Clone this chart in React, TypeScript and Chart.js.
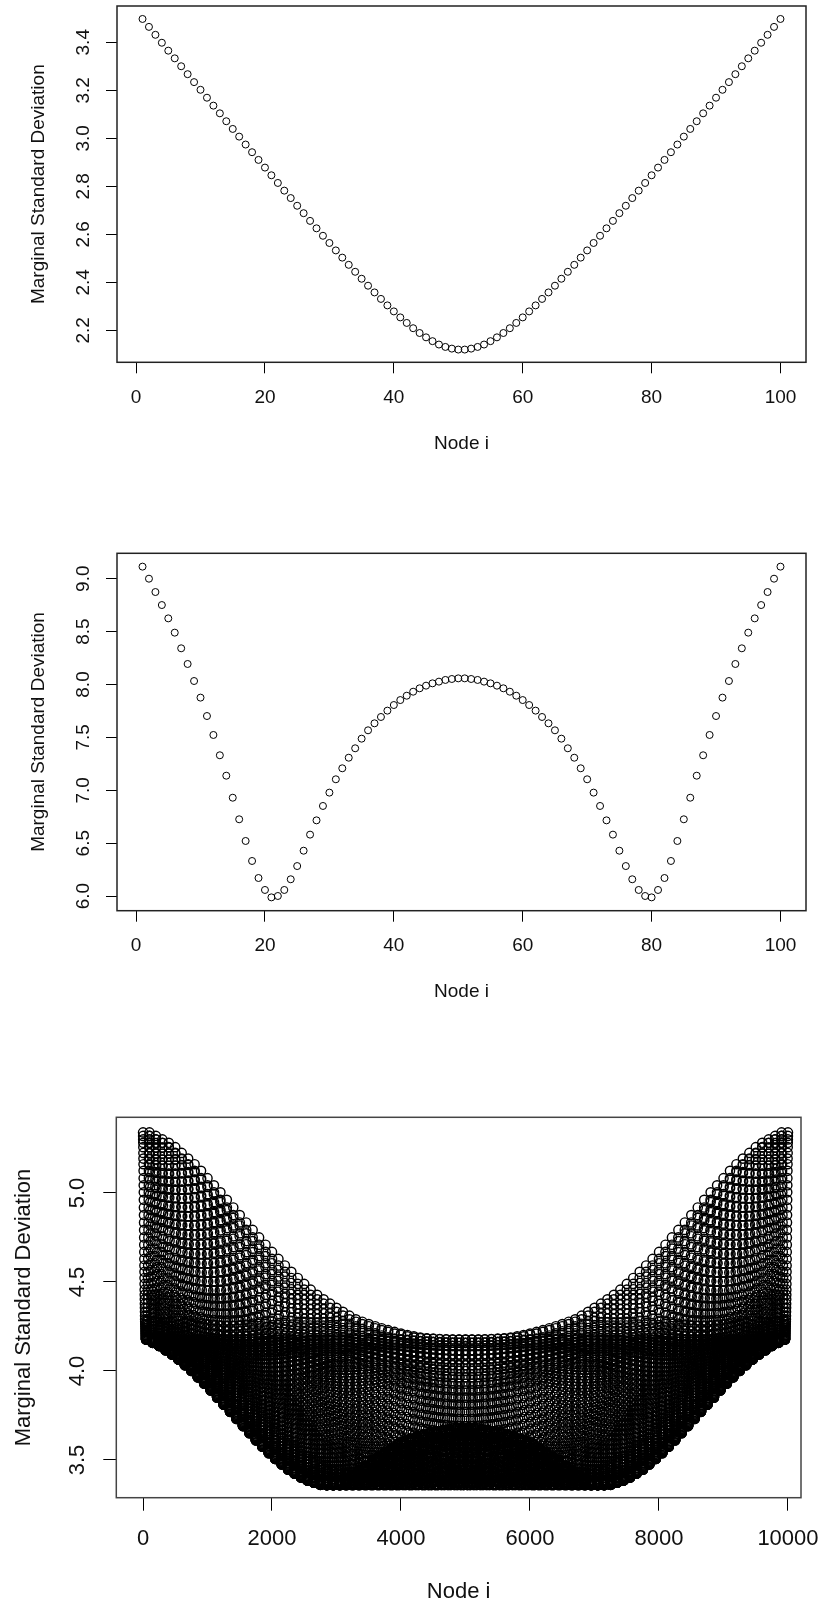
import React, { useEffect, useRef } from 'react';
import { Chart, registerables } from 'chart.js';

Chart.register(...registerables);

// ---------- data ----------
// Panel 1: 100 nodes, marginal SD
const sdPanel1 = [
  3.497, 3.464, 3.431, 3.398, 3.365, 3.333, 3.300, 3.267, 3.234, 3.202,
  3.169, 3.136, 3.104, 3.071, 3.039, 3.007, 2.974, 2.942, 2.910, 2.878,
  2.846, 2.814, 2.782, 2.751, 2.719, 2.688, 2.656, 2.625, 2.594, 2.564,
  2.533, 2.503, 2.473, 2.444, 2.415, 2.386, 2.358, 2.331, 2.304, 2.279,
  2.254, 2.231, 2.209, 2.189, 2.171, 2.155, 2.141, 2.131, 2.124, 2.120,
  2.120, 2.124, 2.131, 2.141, 2.155, 2.171, 2.189, 2.209, 2.231, 2.254,
  2.279, 2.304, 2.331, 2.358, 2.386, 2.415, 2.444, 2.473, 2.503, 2.533,
  2.564, 2.594, 2.625, 2.656, 2.688, 2.719, 2.751, 2.782, 2.814, 2.846,
  2.878, 2.910, 2.942, 2.974, 3.007, 3.039, 3.071, 3.104, 3.136, 3.169,
  3.202, 3.234, 3.267, 3.300, 3.333, 3.365, 3.398, 3.431, 3.464, 3.497,
];

// Panel 2: 100 nodes, marginal SD
const sdPanel2 = [
  9.114, 9.000, 8.874, 8.751, 8.625, 8.490, 8.342, 8.194, 8.033, 7.876,
  7.702, 7.523, 7.331, 7.138, 6.930, 6.726, 6.521, 6.332, 6.171, 6.058,
  5.988, 6.001, 6.058, 6.159, 6.284, 6.429, 6.581, 6.716, 6.852, 6.978,
  7.104, 7.208, 7.308, 7.397, 7.488, 7.567, 7.633, 7.693, 7.753, 7.806,
  7.853, 7.894, 7.932, 7.964, 7.989, 8.011, 8.027, 8.043, 8.052, 8.058,
  8.058, 8.052, 8.043, 8.027, 8.011, 7.989, 7.964, 7.932, 7.894, 7.853,
  7.806, 7.753, 7.693, 7.633, 7.567, 7.488, 7.397, 7.308, 7.208, 7.104,
  6.978, 6.852, 6.716, 6.581, 6.429, 6.284, 6.159, 6.058, 6.001, 5.988,
  6.058, 6.171, 6.332, 6.521, 6.726, 6.930, 7.138, 7.331, 7.523, 7.702,
  7.876, 8.033, 8.194, 8.342, 8.490, 8.625, 8.751, 8.874, 9.000, 9.114,
];

// Panel 3: 100 x 100 grid (10000 nodes, row-major). Marginal SD read off the
// envelopes of the cloud, as a function of distance from the grid centre.
const gridSide = 100;
const radiusStep = 2.5;
const sdByRadius = [
  3.68, 3.675, 3.66, 3.635, 3.60, 3.545, 3.48, 3.415, 3.36, 3.36,
  3.39, 3.445, 3.52, 3.61, 3.71, 3.81, 3.91, 4.0, 4.08, 4.14,
  4.185, 4.29, 4.44, 4.62, 4.81, 4.99, 5.15, 5.27, 5.34,
];

// Tick labels
const xTicksSmall = [0, 20, 40, 60, 80, 100];
const yTicks1 = [2.2, 2.4, 2.6, 2.8, 3.0, 3.2, 3.4];
const yTicks2 = [6.0, 6.5, 7.0, 7.5, 8.0, 8.5, 9.0];
const xTicks3 = [0, 2000, 4000, 6000, 8000, 10000];
const yTicks3 = [3.5, 4.0, 4.5, 5.0];

const xTitle = 'Node i';
const yTitle = 'Marginal Standard Deviation';

// ---------- helpers ----------
function sdAt(r: number, c: number) {
  const mid = (gridSide - 1) / 2;
  const rho = Math.sqrt((r - mid) * (r - mid) + (c - mid) * (c - mid));
  const f = rho / radiusStep;
  const k = Math.min(Math.floor(f), sdByRadius.length - 2);
  const t = f - k;
  return sdByRadius[k] * (1 - t) + sdByRadius[k + 1] * t;
}

const points1 = sdPanel1.map((v, k) => ({ x: k + 1, y: v }));
const points2 = sdPanel2.map((v, k) => ({ x: k + 1, y: v }));
const points3: { x: number; y: number }[] = [];
for (let r = 0; r < gridSide; r++) {
  for (let c = 0; c < gridSide; c++) {
    points3.push({ x: r * gridSide + c + 1, y: sdAt(r, c) });
  }
}

const FONT = "'Liberation Sans', Arial, Helvetica, sans-serif";

type Spec = {
  points: { x: number; y: number }[];
  width: number;
  height: number;
  padTop: number;
  padRight: number;
  yAxisW: number;
  xAxisH: number;
  xMin: number; xMax: number; yMin: number; yMax: number;
  xTicks: number[]; yTicks: number[];
  fontSize: number;
  tickLen: number;
  xTickPad: number;
  yTickPad: number;
  xTitlePad: number;
  yTitlePad: number;
  radius: number;
  pointWidth: number;
  pointColor: string;
  boxColor: string;
  boxWidth: number;
  textColor: string;
};

const boxPlugin = {
  id: 'rbox',
  afterDatasetsDraw(chart: any, _a: any, opts: any) {
    const { ctx, chartArea } = chart;
    ctx.save();
    ctx.strokeStyle = opts.color || '#000';
    ctx.lineWidth = opts.width || 1;
    ctx.strokeRect(chartArea.left, chartArea.top, chartArea.right - chartArea.left, chartArea.bottom - chartArea.top);
    ctx.restore();
  },
};

function buildConfig(p: Spec): any {
  const font = { family: FONT, size: p.fontSize, weight: 'normal' as const, lineHeight: 1.2 };
  return {
    type: 'scatter',
    data: {
      datasets: [
        {
          data: p.points,
          showLine: false,
          pointStyle: 'circle',
          pointRadius: p.radius,
          pointHoverRadius: p.radius,
          pointBorderWidth: p.pointWidth,
          pointBorderColor: p.pointColor,
          pointBackgroundColor: 'rgba(0,0,0,0)',
        },
      ],
    },
    options: {
      animation: false,
      responsive: false,
      events: [],
      layout: { padding: { top: p.padTop, right: p.padRight, left: 0, bottom: 0 } },
      plugins: {
        legend: { display: false },
        tooltip: { enabled: false },
        rbox: { color: p.boxColor, width: p.boxWidth },
      },
      scales: {
        x: {
          type: 'linear',
          min: p.xMin,
          max: p.xMax,
          afterBuildTicks: (s: any) => {
            s.ticks = p.xTicks.map((v) => ({ value: v }));
          },
          afterFit: (s: any) => {
            s.height = p.xAxisH;
            s.paddingLeft = 0;
            s.paddingRight = 0;
          },
          border: { display: false },
          grid: { drawOnChartArea: false, drawTicks: true, tickLength: p.tickLen, tickColor: '#000', tickWidth: 1 },
          ticks: {
            autoSkip: false,
            minRotation: 0,
            maxRotation: 0,
            padding: p.xTickPad,
            color: p.textColor,
            font,
            callback: (v: any) => String(v),
          },
          title: {
            display: true,
            text: xTitle,
            color: p.textColor,
            font,
            padding: { top: 0, bottom: p.xTitlePad },
          },
        },
        y: {
          type: 'linear',
          min: p.yMin,
          max: p.yMax,
          afterBuildTicks: (s: any) => {
            s.ticks = p.yTicks.map((v) => ({ value: v }));
          },
          afterFit: (s: any) => {
            s.width = p.yAxisW;
            s.paddingTop = 0;
            s.paddingBottom = 0;
          },
          border: { display: false },
          grid: { drawOnChartArea: false, drawTicks: true, tickLength: p.tickLen, tickColor: '#000', tickWidth: 1 },
          ticks: {
            autoSkip: false,
            minRotation: 90,
            maxRotation: 90,
            crossAlign: 'center',
            padding: p.yTickPad,
            color: p.textColor,
            font,
            callback: (v: any) => Number(v).toFixed(1),
          },
          title: {
            display: true,
            text: yTitle,
            color: p.textColor,
            font,
            padding: { top: p.yTitlePad, bottom: 0 },
          },
        },
      },
    },
    plugins: [boxPlugin],
  };
}

const W = 825;

const spec1: Spec = {
  points: points1, width: W, height: 470,
  padTop: 6, padRight: 19, yAxisW: 117, xAxisH: 470 - 362.3,
  xMin: -2.96, xMax: 103.96, yMin: 2.067, yMax: 3.551,
  xTicks: xTicksSmall, yTicks: yTicks1,
  fontSize: 19, tickLen: 11, xTickPad: 13, yTickPad: 9.5, xTitlePad: 14.6, yTitlePad: 27,
  radius: 3.5, pointWidth: 1, pointColor: '#000', boxColor: '#222', boxWidth: 1.5, textColor: '#111',
};

const spec2: Spec = {
  points: points2, width: W, height: 560,
  padTop: 553.3 - 470, padRight: 19, yAxisW: 117, xAxisH: 1030 - 910.7,
  xMin: -2.96, xMax: 103.96, yMin: 5.862, yMax: 9.240,
  xTicks: xTicksSmall, yTicks: yTicks2,
  fontSize: 19, tickLen: 11, xTickPad: 13, yTickPad: 9.5, xTitlePad: 26.6, yTitlePad: 27,
  radius: 3.5, pointWidth: 1, pointColor: '#000', boxColor: '#222', boxWidth: 1.5, textColor: '#111',
};

const spec3: Spec = {
  points: points3, width: W, height: 578,
  padTop: 1117.3 - 1030, padRight: 24, yAxisW: 116.3, xAxisH: 1608 - 1497.7,
  xMin: -414, xMax: 10202, yMin: 3.288, yMax: 5.425,
  xTicks: xTicks3, yTicks: yTicks3,
  fontSize: 22, tickLen: 13, xTickPad: 15, yTickPad: 10, xTitlePad: 2.8, yTitlePad: 11,
  radius: 4.6, pointWidth: 1.4, pointColor: '#000', boxColor: '#444', boxWidth: 1.5, textColor: '#111',
};

function Panel({ spec, top }: { spec: Spec; top: number }) {
  const ref = useRef<HTMLCanvasElement | null>(null);
  useEffect(() => {
    if (!ref.current) return;
    const chart = new Chart(ref.current, buildConfig(spec));
    return () => chart.destroy();
  }, [spec]);
  return (
    <canvas
      ref={ref}
      width={spec.width}
      height={spec.height}
      style={{ position: 'absolute', left: 0, top, width: spec.width, height: spec.height, display: 'block' }}
    />
  );
}

export default function App() {
  return (
    <div style={{ position: 'absolute', left: 0, top: 0, width: 825, height: 1608, background: '#fff', overflow: 'hidden' }}>
      <Panel spec={spec1} top={0} />
      <Panel spec={spec2} top={470} />
      <Panel spec={spec3} top={1030} />
    </div>
  );
}
